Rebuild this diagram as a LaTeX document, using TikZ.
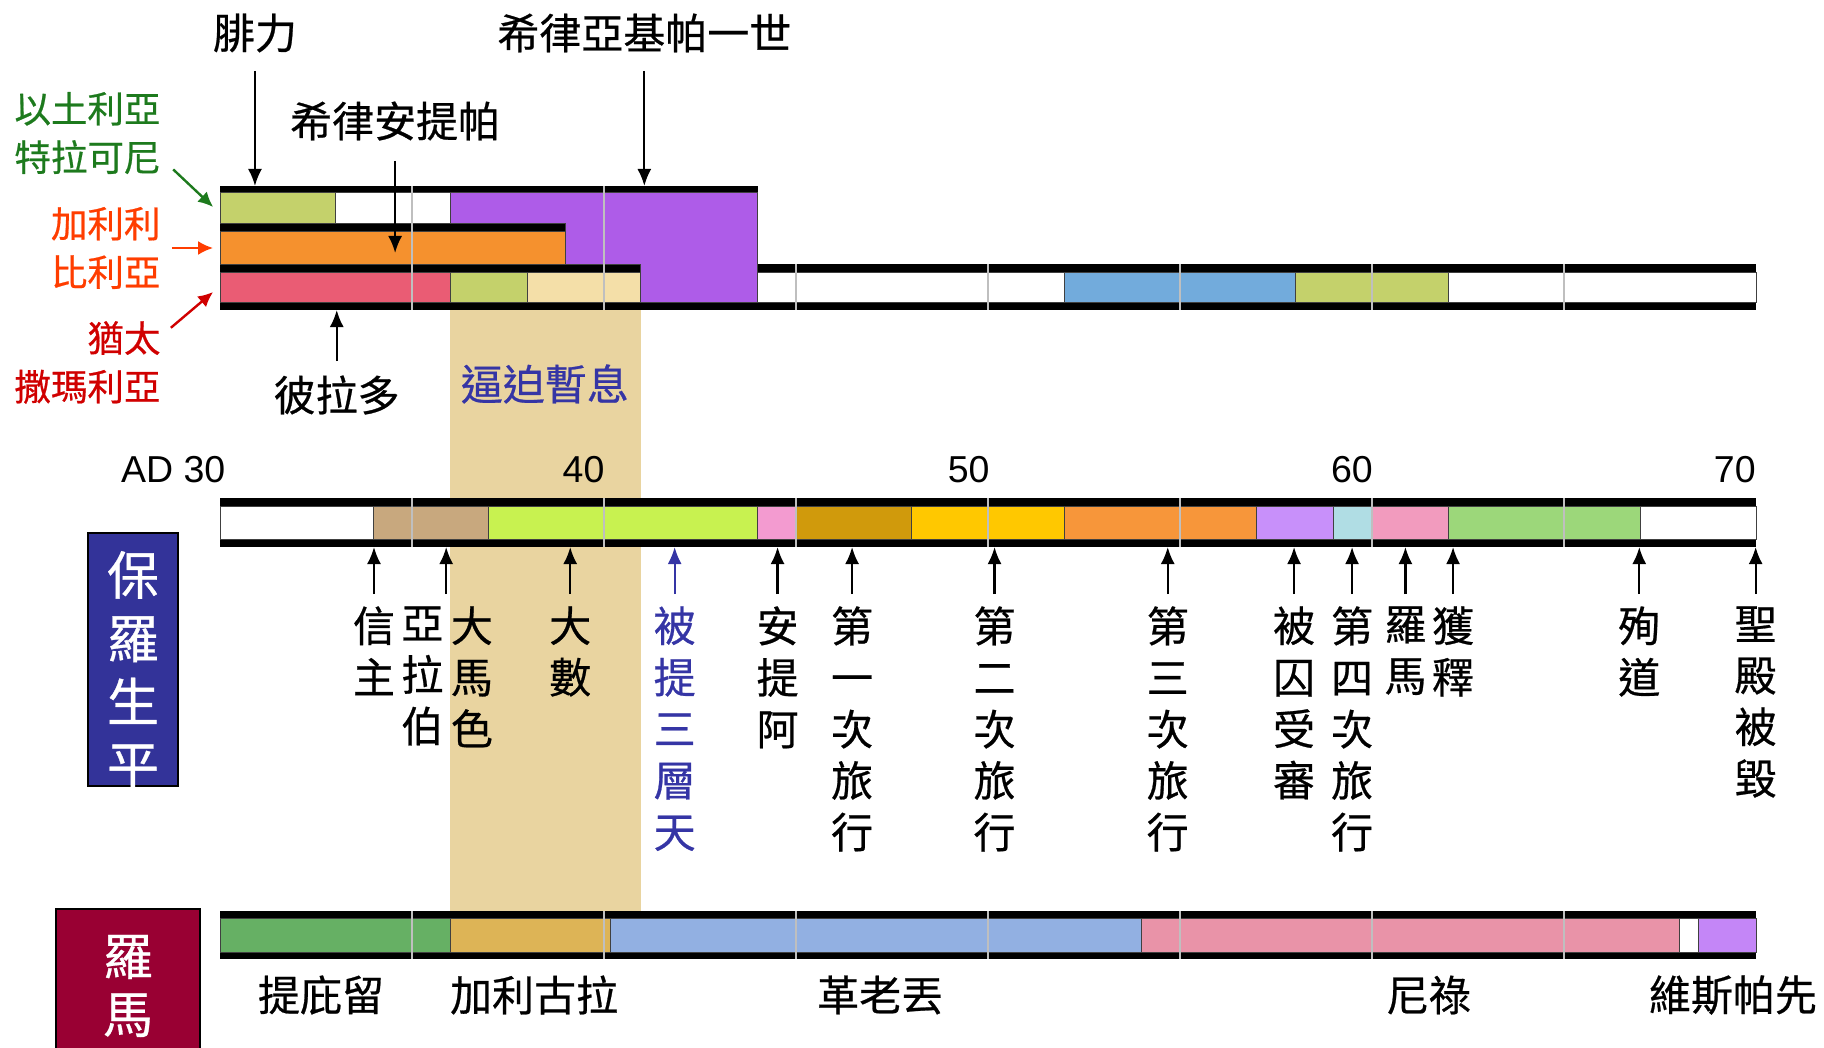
\documentclass[tikz,border=0pt]{standalone}
\usepackage{fontspec}
\setmainfont{Liberation Sans}
\newfontfamily\cjk[FakeBold=0.6]{Noto Sans CJK TC}
\usetikzlibrary{arrows.meta}

\definecolor{papyrus}{HTML}{E9D4A0}
\definecolor{tgreen}{HTML}{C4D16B}
\definecolor{tpurple}{HTML}{AE5CE8}
\definecolor{torange}{HTML}{F5912E}
\definecolor{tred}{HTML}{EA5C74}
\definecolor{ttan}{HTML}{F4DFA8}
\definecolor{tblue}{HTML}{72ABDC}
\definecolor{mtan}{HTML}{C8A87E}
\definecolor{mlime}{HTML}{C8F250}
\definecolor{mpink}{HTML}{F39BD0}
\definecolor{mgold}{HTML}{D09A0C}
\definecolor{myellow}{HTML}{FFC800}
\definecolor{morange}{HTML}{F7963A}
\definecolor{mlilac}{HTML}{C890FA}
\definecolor{mcyan}{HTML}{B0DDE4}
\definecolor{mpinkb}{HTML}{F29BBE}
\definecolor{mgreen}{HTML}{9CD77A}
\definecolor{rgreen}{HTML}{66B064}
\definecolor{rgold}{HTML}{DDB456}
\definecolor{rblue}{HTML}{92B0E2}
\definecolor{rpink}{HTML}{E993A8}
\definecolor{rpurple}{HTML}{C486F7}
\definecolor{boxblue}{HTML}{333399}
\definecolor{boxred}{HTML}{990033}
\definecolor{txtblue}{HTML}{3535A5}
\definecolor{txtgreen}{HTML}{1D7A1D}
\definecolor{txtorange}{HTML}{FF3D00}
\definecolor{txtred}{HTML}{D00000}

\begin{document}
\begin{tikzpicture}[x=19.2pt,y=-0.5pt,
  cell/.style={draw=black!75,line width=0.5pt},
  grid/.style={draw=black!25,line width=1pt},
  evt/.style={-{Latex[length=8.5pt,width=7pt]},line width=1.1pt},
  up/.style={evt,shorten <=6pt},
  sidearr/.style={-{Latex[length=7.5pt,width=7pt]},line width=1.2pt},
  lbl/.style={font=\cjk\fontsize{21}{25.75}\selectfont,inner sep=0pt},
  vlbl/.style={lbl,align=center,anchor=north},
  side/.style={font=\cjk\fontsize{18.25}{24.25}\selectfont,inner sep=0pt,align=right,anchor=east},
  yr/.style={font=\fontsize{18.75}{20}\selectfont,inner sep=0pt,anchor=base east}]
\useasboundingbox (24.2708,0) rectangle (71.7708,1048);

\coordinate (tbtop) at (30,186);
\coordinate (orrow) at (30,253);
\coordinate (tbbot) at (30,310);
\coordinate (pbot)  at (30,547);

% papyrus band
\fill[papyrus] (36,309) rectangle (40.95,911);

% kings over the provinces
\fill (30,186) rectangle (44,310);
\fill (44,264) rectangle (70,310);
\draw[cell,fill=tgreen]  (30,193) rectangle (33,224);
\draw[cell,fill=white]   (33,193) rectangle (36,224);
\draw[cell,fill=torange] (30,232) rectangle (39,264);
\draw[cell,fill=tred]    (30,272) rectangle (36,302);
\draw[cell,fill=tgreen]  (36,272) rectangle (38,302);
\draw[cell,fill=ttan]    (38,272) rectangle (40.95,302);
\draw[cell,fill=tpurple] (36,193) -- (44,193) -- (44,302) -- (40.95,302)
  -- (40.95,264) -- (39,264) -- (39,224) -- (36,224) -- cycle;
\draw[cell,fill=white]   (44,272) rectangle (52,302);
\draw[cell,fill=tblue]   (52,272) rectangle (58,302);
\draw[cell,fill=tgreen]  (58,272) rectangle (62,302);
\draw[cell,fill=white]   (62,272) rectangle (70,302);
\draw[grid] (35,186)--(35,310) (40,186)--(40,310) (45,264)--(45,310)
  (50,264)--(50,310) (55,264)--(55,310) (60,264)--(60,310) (65,264)--(65,310);

% Paul
\fill (30,498) rectangle (70,547);
\draw[cell,fill=white]   (30,506) rectangle (34,539);
\draw[cell,fill=mtan]    (34,506) rectangle (37,539);
\draw[cell,fill=mlime]   (37,506) rectangle (44,539);
\draw[cell,fill=mpink]   (44,506) rectangle (45,539);
\draw[cell,fill=mgold]   (45,506) rectangle (48,539);
\draw[cell,fill=myellow] (48,506) rectangle (52,539);
\draw[cell,fill=morange] (52,506) rectangle (57,539);
\draw[cell,fill=mlilac]  (57,506) rectangle (59,539);
\draw[cell,fill=mcyan]   (59,506) rectangle (60,539);
\draw[cell,fill=mpinkb]  (60,506) rectangle (62,539);
\draw[cell,fill=mgreen]  (62,506) rectangle (67,539);
\draw[cell,fill=white]   (67,506) rectangle (70,539);
\draw[grid] (35,498)--(35,547) (40,498)--(40,547) (45,498)--(45,547)
  (50,498)--(50,547) (55,498)--(55,547) (60,498)--(60,547) (65,498)--(65,547);

% emperors
\fill (30,911) rectangle (70,959);
\draw[cell,fill=rgreen]  (30,918) rectangle (36,952);
\draw[cell,fill=rgold]   (36,918) rectangle (40.16,952);
\draw[cell,fill=rblue]   (40.16,918) rectangle (54,952);
\draw[cell,fill=rpink]   (54,918) rectangle (68,952);
\draw[cell,fill=white]   (68,918) rectangle (68.5,952);
\draw[cell,fill=rpurple] (68.5,918) rectangle (70,952);
\draw[grid] (35,911)--(35,959) (40,911)--(40,959) (45,911)--(45,959)
  (50,911)--(50,959) (55,911)--(55,959) (60,911)--(60,959) (65,911)--(65,959);

% years
\node[yr] at (30.15,482) {AD 30};
\node[yr] at (40.02,482) {40};
\node[yr] at (50.05,482) {50};
\node[yr] at (60.03,482) {60};
\node[yr] at (70.0,482)  {70};

% rulers
\node[lbl] (philip)  at (30.91,33)  {腓力};
\node[lbl] (agrippa) at (41.05,33)  {希律亞基帕一世};
\node[lbl] (antipas) at (34.56,121) {希律安提帕};
\node[lbl] (pilate)  at (33.04,395) {彼拉多};
\node[lbl,text=txtblue] (respite) at (38.46,384) {逼迫暫息};

\draw[evt,shorten <=9pt]  (philip.south)  -- (philip.south |- tbtop);
\draw[evt,shorten <=9pt]  (agrippa.south) -- (agrippa.south |- tbtop);
\draw[evt,shorten <=10pt] (antipas.south) -- (antipas.south |- orrow);
\draw[evt,shorten <=7pt]  (pilate.north)  -- (pilate.north |- tbbot);

% provinces
\node[side,text=txtgreen]  (idumea)  at (28.46,133)   {以土利亞\\特拉可尼};
\node[side,text=txtorange] (galilee) at (28.46,248)   {加利利\\比利亞};
\node[side,text=txtred]    (judea)   at (28.46,362.5) {猶太\\撒瑪利亞};
\coordinate (rowa) at (29.82,207);
\coordinate (rowc) at (29.82,292);
\draw[sidearr,txtgreen]  ([shift={(0.32,-5)}]idumea.south east) -- (rowa);
\draw[sidearr,txtorange] ([xshift=5.5pt]galilee.east) -- (galilee.east -| rowa);
\draw[sidearr,txtred]    ([shift={(0.26,7)}]judea.north east) -- (rowc);

% Paul's life
\node (pbox) [draw,line width=1pt,fill=boxblue,minimum width=45pt,minimum height=126.5pt,inner sep=0pt] at (27.734,659.5) {};
\node (ptxt) [text=white,font=\cjk\fontsize{26}{31.7}\selectfont,align=center,inner sep=0pt] at (27.734,670) {保\\羅\\生\\平};

\node[vlbl] (conv)     at (34.01,606) {信\\主};
\node[vlbl] (arabia)   at (35.27,606) {亞\\拉\\伯};
\node[vlbl] (damascus) at (36.56,606) {大\\馬\\色};
\node[vlbl] (tarsus)   at (39.12,606) {大\\數};
\node[vlbl,text=txtblue] (rapture) at (41.84,606) {被\\提\\三\\層\\天};
\node[vlbl] (antioch)  at (44.52,606) {安\\提\\阿};
\node[vlbl] (tripa)    at (46.46,606) {第\\一\\次\\旅\\行};
\node[vlbl] (tripb)    at (50.17,606) {第\\二\\次\\旅\\行};
\node[vlbl] (tripc)    at (54.68,606) {第\\三\\次\\旅\\行};
\node[vlbl] (trial)    at (57.97,606) {被\\囚\\受\\審};
\node[vlbl] (tripd)    at (59.48,606) {第\\四\\次\\旅\\行};
\node[vlbl] (rome)     at (60.87,606) {羅\\馬};
\node[vlbl] (release)  at (62.11,606) {獲\\釋};
\node[vlbl] (martyr)   at (66.96,606) {殉\\道};
\node[vlbl] (temple)   at (69.99,606) {聖\\殿\\被\\毀};
\coordinate (arab) at (35.89,606);

\draw[up] (conv.north)    -- (conv.north |- pbot);
\draw[up] (arab)          -- (arab |- pbot);
\draw[up] (tarsus.north)  -- (tarsus.north |- pbot);
\draw[up,txtblue] (rapture.north) -- (rapture.north |- pbot);
\draw[up] (antioch.north) -- (antioch.north |- pbot);
\draw[up] (tripa.north)   -- (tripa.north |- pbot);
\draw[up] (tripb.north)   -- (tripb.north |- pbot);
\draw[up] (tripc.north)   -- (tripc.north |- pbot);
\draw[up] (trial.north)   -- (trial.north |- pbot);
\draw[up] (tripd.north)   -- (tripd.north |- pbot);
\draw[up] (rome.north)    -- (rome.north |- pbot);
\draw[up] (release.north) -- (release.north |- pbot);
\draw[up] (martyr.north)  -- (martyr.north |- pbot);
\draw[up] (temple.north)  -- (temple.north |- pbot);

% Rome
\node (rbox) [draw,line width=1pt,fill=boxred,minimum width=72pt,minimum height=76pt,inner sep=0pt,anchor=north] at (27.604,908) {};
\node (rtxt) [text=white,font=\cjk\fontsize{25}{29}\selectfont,align=center,inner sep=0pt] at (27.604,986) {羅\\馬};

\node[lbl] (tiberius)  at (32.63,995) {提庇留};
\node[lbl] (caligula)  at (38.18,995) {加利古拉};
\node[lbl] (claudius)  at (47.19,995) {革老丟};
\node[lbl] (nero)      at (61.48,995) {尼祿};
\node[lbl] (vespasian) at (69.4,995)  {維斯帕先};

\end{tikzpicture}
\end{document}
